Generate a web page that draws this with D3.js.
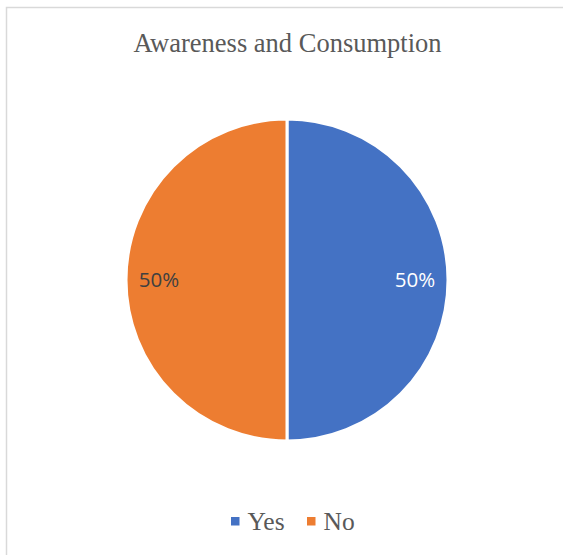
<!DOCTYPE html>
<html>
<head>
<meta charset="utf-8">
<script src="https://cdn.jsdelivr.net/npm/d3@7/dist/d3.min.js"></script>
<style>
  html, body { margin: 0; padding: 0; background: #fff; }
  svg { display: block; }
</style>
</head>
<body>
<svg id="chart" width="563" height="555"></svg>
<script>
// Survey answers and their shares
const categories = ["Yes", "No"];
const values = [50, 50];
const colors = ["#4472C4", "#ED7D31"];
const labelColors = ["#FFFFFF", "#404040"];
const title = "Awareness and Consumption";

const svg = d3.select("#chart");
const W = 563, H = 555;

// Chart frame
svg.append("path")
  .attr("d", `M${W + 2},7.5 H6.5 V${H + 2}`)
  .attr("fill", "none")
  .attr("stroke", "#D9D9D9")
  .attr("stroke-width", 1.5);

// Title
svg.append("text")
  .attr("x", 287.5)
  .attr("y", 52)
  .attr("text-anchor", "middle")
  .attr("font-family", "'Liberation Serif', 'Times New Roman', serif")
  .attr("font-size", 26.5)
  .attr("fill", "#595959")
  .text(title);

// Pie
const cx = 287, cy = 280, r = 161;
const data = categories.map((c, i) => ({ cat: c, value: values[i], color: colors[i], lc: labelColors[i] }));
const pie = d3.pie().value(d => d.value).sort(null);
const arc = d3.arc().innerRadius(0).outerRadius(r);
const labelArc = d3.arc().innerRadius(r * 0.795).outerRadius(r * 0.795);
const arcs = pie(data);
const total = d3.sum(values);

const g = svg.append("g").attr("transform", `translate(${cx},${cy})`);
g.selectAll("path.slice")
  .data(arcs)
  .join("path")
  .attr("class", "slice")
  .attr("d", arc)
  .attr("fill", d => d.data.color)
  .attr("stroke", "#fff")
  .attr("stroke-width", 3);

g.selectAll("text.lbl")
  .data(arcs)
  .join("text")
  .attr("class", "lbl")
  .attr("transform", d => `translate(${labelArc.centroid(d)})`)
  .attr("text-anchor", "middle")
  .attr("dy", "0.36em")
  .attr("font-family", "'Open Sans', 'Liberation Sans', sans-serif")
  .attr("font-size", 20.5)
  .attr("fill", d => d.data.lc)
  .text(d => Math.round(d.data.value / total * 100) + "%");

// Legend
const legend = svg.append("g").attr("transform", "translate(0,530)");
const itemX = [231, 307];
data.forEach((d, i) => {
  const it = legend.append("g").attr("transform", `translate(${itemX[i]},0)`);
  it.append("rect")
    .attr("x", 0).attr("y", -13)
    .attr("width", 8.5).attr("height", 8.5)
    .attr("fill", d.color);
  it.append("text")
    .attr("x", 16.5).attr("y", 0)
    .attr("font-family", "'Liberation Serif', 'Times New Roman', serif")
    .attr("font-size", 25.5)
    .attr("fill", "#595959")
    .text(d.cat);
});
</script>
</body>
</html>
